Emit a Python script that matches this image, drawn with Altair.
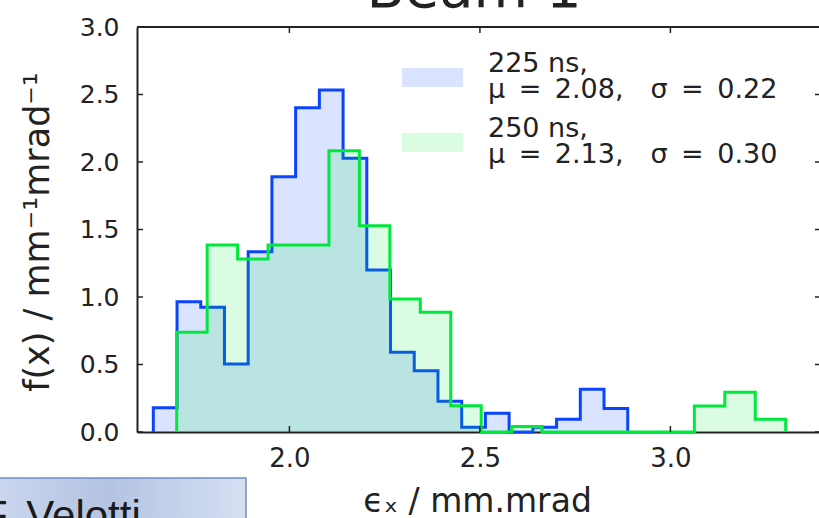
import altair as alt
import pandas as pd

# ---------------- values ----------------
blue_first_edge = 1.6428
blue_last_edge = 2.888
blue_heights = [0.18, 0.965, 0.924, 0.504, 1.336, 1.891, 2.402, 2.533, 2.027, 1.20,
                0.59, 0.454, 0.228, 0.035, 0.138, 0.0, 0.035, 0.094, 0.316, 0.175]

green_first_edge = 1.7042
green_last_edge = 3.3026
green_heights = [0.738, 1.385, 1.281, 1.385, 1.385, 2.084, 1.528, 0.985, 0.887, 0.195,
                 0.0, 0.04, 0.0, 0.0, 0.0, 0.0, 0.0, 0.193, 0.294, 0.094]

x_ticks = [2.0, 2.5, 3.0]
y_ticks = [0.0, 0.5, 1.0, 1.5, 2.0, 2.5, 3.0]
x_domain = [1.6, 3.39]
y_domain = [0.0, 3.0]

legend_names = ["225 ns,", "250 ns,"]
legend_stats = ["\u03bc\u2002=\u20022.08,\u2003\u03c3\u2002=\u20020.22",
                "\u03bc\u2002=\u20022.13,\u2003\u03c3\u2002=\u20020.30"]
title_text = "Beam 1"
x_title = "\u03f5\u2093 / mm.mrad"
y_title = "f(x) / mm\u207b\u00b9mrad\u207b\u00b9"
footer_text = "F. Velotti"

BLUE = "#0a44ff"
GREEN = "#00e83c"
INK = "#222222"
FONT = "DejaVu Sans"

W, H = 682, 405


def outline(first, last, heights):
    n = len(heights)
    w = (last - first) / n
    edges = [first + i * w for i in range(n + 1)]
    xs, ys = [edges[0]], [0.0]
    for i, h in enumerate(heights):
        xs += [edges[i], edges[i + 1]]
        ys += [h, h]
    xs.append(edges[-1])
    ys.append(0.0)
    return pd.DataFrame({"x": xs, "y": ys, "o": list(range(len(xs)))})


blue_df = outline(blue_first_edge, blue_last_edge, blue_heights)
green_df = outline(green_first_edge, green_last_edge, green_heights)

xs = alt.Scale(domain=x_domain, nice=False, zero=False)
ys = alt.Scale(domain=y_domain, nice=False, zero=False)

xaxis = alt.Axis(values=x_ticks, format=".1f", title=x_title, labelFontSize=26,
                 labelPadding=13, labelFlush=False, titleFontSize=33, titleX=340,
                 titleY=79, titleBaseline="alphabetic", titleAlign="center")
yaxis = alt.Axis(values=y_ticks, format=".1f", title=y_title, labelFontSize=25,
                 labelPadding=18, labelFlush=False, titleFontSize=35, titleAngle=270,
                 titleX=-100, titleY=H / 2 + 2, titleAlign="center", titleBaseline="middle")


def X(f):
    return alt.X(f, type="quantitative", scale=xs, axis=xaxis)


def Y(f):
    return alt.Y(f, type="quantitative", scale=ys, axis=yaxis, stack=None)


def hist_layers(df, color):
    area = alt.Chart(df).mark_area(color=color, fillOpacity=0.15, interpolate="linear").encode(
        x=X("x"), y=Y("y"), y2=alt.datum(0))
    line = alt.Chart(df).mark_line(color=color, strokeWidth=3, strokeJoin="miter").encode(
        x=X("x"), y=Y("y"), order=alt.Order("o:Q"))
    return [area, line]


one = pd.DataFrame({"a": [0]})
xt = pd.DataFrame({"v": x_ticks})
yt = pd.DataFrame({"v": y_ticks})

tick_style = dict(color=INK, strokeWidth=1.5)
ticks = [
    alt.Chart(xt).mark_rule(**tick_style).encode(x=X("v"), y=alt.value(H - 6), y2=alt.value(H)),
    alt.Chart(xt).mark_rule(**tick_style).encode(x=X("v"), y=alt.value(0), y2=alt.value(6)),
    alt.Chart(yt).mark_rule(**tick_style).encode(y=Y("v"), x=alt.value(0), x2=alt.value(6)),
    alt.Chart(yt).mark_rule(**tick_style).encode(y=Y("v"), x=alt.value(W - 4), x2=alt.value(W)),
]

top_frame = alt.Chart(one).mark_rule(color=INK, strokeWidth=2).encode(
    x=alt.value(0), x2=alt.value(W), y=alt.value(0))

title = alt.Chart(one).mark_text(text=title_text, font=FONT, fontSize=56, align="center",
                                 baseline="alphabetic", color=INK).encode(
    x=alt.value(337), y=alt.value(-20))

legend = []
for i, (name, stat, col) in enumerate(zip(legend_names, legend_stats, [BLUE, GREEN])):
    dy = i * 65
    legend.append(alt.Chart(one).mark_rect(fill=col, fillOpacity=0.15).encode(
        x=alt.value(265), x2=alt.value(326), y=alt.value(41 + dy), y2=alt.value(60 + dy)))
    legend.append(alt.Chart(one).mark_text(text=name, font=FONT, fontSize=27, align="left",
                                           baseline="alphabetic", color=INK).encode(
        x=alt.value(351), y=alt.value(45 + dy)))
    legend.append(alt.Chart(one).mark_text(text=stat, font=FONT, fontSize=27, align="left",
                                           baseline="alphabetic", color=INK).encode(
        x=alt.value(351), y=alt.value(71 + dy)))

grad = alt.LinearGradient(
    gradient="linear",
    stops=[alt.GradientStop(color="#cbd6ee", offset=0),
           alt.GradientStop(color="#b3c3e1", offset=0.45),
           alt.GradientStop(color="#d6e0f3", offset=1)],
    x1=0, x2=1, y1=0, y2=0)
footer_box = alt.Chart(one).mark_rect(fill=grad, stroke="#6f8fc6", strokeWidth=1.5).encode(
    x=alt.value(-140), x2=alt.value(109), y=alt.value(451), y2=alt.value(530))
footer = alt.Chart(one).mark_text(text=footer_text, font="Liberation Sans", fontSize=42,
                                  align="left", baseline="alphabetic", color="#1a1a1a").encode(
    x=alt.value(-155), y=alt.value(503))

layers = (hist_layers(blue_df, BLUE) + hist_layers(green_df, GREEN) + ticks
          + [top_frame, title] + legend + [footer_box, footer])

chart = alt.layer(*layers).properties(
    width=W, height=H,
    autosize=alt.AutoSizeParams(type="none"),
    padding={"left": 137, "top": 27, "right": 0, "bottom": 86},
    background="white",
).configure_view(stroke=None).configure_axis(
    domainColor=INK, domainWidth=2, labelColor=INK, titleColor=INK,
    labelFont=FONT, titleFont=FONT, titleFontWeight="normal", grid=False,
    ticks=False, zindex=1,
)

chart.save("out.html", embed_options={"renderer": "svg", "actions": False})
